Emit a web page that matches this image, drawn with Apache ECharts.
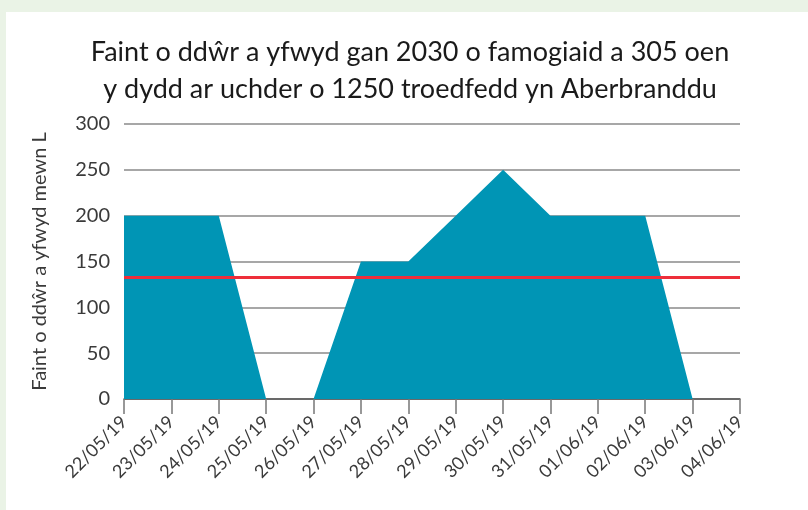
<!DOCTYPE html>
<html>
<head>
<meta charset="utf-8">
<script src="https://cdn.jsdelivr.net/npm/echarts@6/dist/echarts.min.js"></script>
<style>
  html, body { margin: 0; padding: 0; background: #eaf3e6; }
  #chart { width: 808px; height: 510px; }
</style>
</head>
<body>
<div id="chart"></div>
<script>
// dates along the bottom
var dates = ['22/05/19', '23/05/19', '24/05/19', '25/05/19', '26/05/19', '27/05/19', '28/05/19',
  '29/05/19', '30/05/19', '31/05/19', '01/06/19', '02/06/19', '03/06/19', '04/06/19']
// litres drunk each day
var litres = [200, 200, 200, 0, 0, 150, 150, 200, 250, 200, 200, 200, 0, 0]
// red reference line
var refLevel = 133
var yTicks = [0, 50, 100, 150, 200, 250, 300]

var myChart = echarts.init(document.getElementById('chart'))
var font = 'Lato, "Open Sans", sans-serif'

myChart.setOption({
  backgroundColor: '#eaf3e6',
  animation: false,
  graphic: [{
    type: 'rect', z: -10, silent: true,
    shape: { x: 6, y: 12, width: 802, height: 498 },
    style: { fill: '#ffffff' }
  }],
  title: {
    text: 'Faint o ddŵr a yfwyd gan 2030 o famogiaid a 305 oen\ny dydd ar uchder o 1250 troedfedd yn Aberbranddu',
    left: 405, top: 29, textAlign: 'center',
    textStyle: { fontFamily: font, fontSize: 27, fontWeight: 'normal', color: '#1a1a1a', lineHeight: 37 }
  },
  grid: { left: 124, right: 68, top: 124, bottom: 111 },
  xAxis: {
    type: 'category',
    data: dates,
    boundaryGap: false,
    axisLine: { lineStyle: { color: '#555', width: 1.5 } },
    axisTick: { alignWithLabel: true, length: 15, lineStyle: { color: '#777', width: 1.5 } },
    axisLabel: { rotate: 45, interval: 0, margin: 20, fontFamily: font, fontSize: 18, color: '#3a3a3a' }
  },
  yAxis: {
    type: 'value',
    min: yTicks[0], max: yTicks[yTicks.length - 1], interval: 50,
    name: 'Faint o ddŵr a yfwyd mewn L',
    nameLocation: 'middle', nameGap: 74,
    nameTextStyle: { fontFamily: font, fontSize: 20, color: '#3a3a3a' },
    axisLine: { show: false },
    axisTick: { show: false },
    axisLabel: { margin: 14, fontFamily: font, fontSize: 20, color: '#3a3a3a' },
    splitLine: { lineStyle: { color: '#8a8a8a', width: 1.5 } }
  },
  series: [{
    type: 'line',
    data: litres,
    symbol: 'none',
    lineStyle: { width: 0 },
    areaStyle: { color: '#0095b5', opacity: 1 },
    markLine: {
      silent: true, symbol: 'none',
      label: { show: false },
      lineStyle: { color: '#ee2e3a', width: 3, type: 'solid' },
      data: [{ yAxis: refLevel }]
    }
  }]
})
</script>
</body>
</html>
